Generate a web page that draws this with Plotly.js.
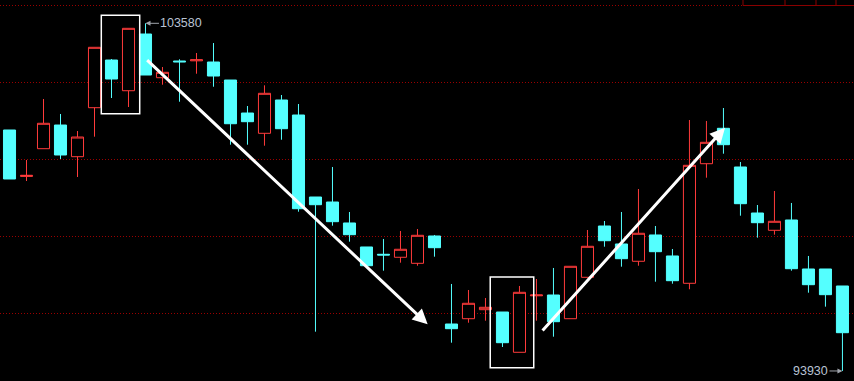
<!DOCTYPE html>
<html>
<head>
<meta charset="utf-8">
<script src="https://cdn.plot.ly/plotly-3.0.1.min.js"></script>
<style>
  html, body { margin: 0; padding: 0; background: #000; overflow: hidden; }
  #chart { width: 854px; height: 381px; }
</style>
</head>
<body>
<div id="chart"></div>
<script>
// ---- data ----
const openVals  = [100619, 99330, 100100, 100757, 99878, 101238, 102561, 101709, 103283, 102070,
                   102534, 102539, 102506, 102006, 101090, 100527, 101451, 101035, 98759, 98620,
                   98038, 97372, 97169, 97086, 96919, 97677, 95234, 95381, 95631, 95567,
                   94449, 96017, 96039, 95381, 96530, 97954, 97455, 96975, 97705, 97122,
                   96364, 99683, 100666, 99592, 98315, 97835, 98121, 96761, 96761, 96289];
const highVals  = [100619, 99786, 101479, 101063, 100591, 102914, 102589, 103441, 103580, 102367,
                   102581, 102756, 103033, 102006, 101285, 101859, 101590, 101340, 98759, 99592,
                   98343, 97372, 97594, 97816, 97871, 97705, 96345, 96178, 95956, 95567,
                   96289, 96483, 96789, 96836, 97843, 98093, 98343, 98981, 97954, 97316,
                   100896, 100869, 101229, 99731, 98537, 98926, 98593, 97122, 96761, 96289];
const lowVals   = [99259, 99203, 100100, 99814, 99314, 100433, 101507, 101257, 102145, 101876,
                   101404, 102181, 101820, 100211, 100211, 100183, 100349, 98351, 95021, 97963,
                   97519, 96852, 96714, 96936, 96852, 97102, 94715, 95270, 95326, 94596,
                   94449, 95326, 94882, 95381, 96530, 97380, 96825, 96852, 96408, 96353,
                   96198, 99295, 99961, 98240, 97630, 97713, 96714, 96103, 95715, 93930];
const closeVals = [99259, 99360, 100805, 99925, 100424, 102914, 102034, 103441, 102145, 102220,
                   102511, 102567, 102117, 100793, 100849, 101637, 100655, 98434, 98545, 98074,
                   97713, 96852, 97149, 97308, 97696, 97352, 95104, 95809, 95698, 94715,
                   96114, 96039, 95298, 96836, 97391, 97546, 97047, 97752, 97241, 96436,
                   99639, 100277, 100211, 98573, 98046, 98085, 96769, 96325, 96048, 94993];
const gridVals  = [104080, 101943, 99807, 97670, 95534];
const highLabel = "103580";
const lowLabel  = "93930";
const tabLabels = ["前复权", "均线", "画", "十"];

const xIdx = openVals.map((_, i) => i);

const RED = '#ff3b3b';
const CYAN = '#54ffff';

const trace = {
  type: 'candlestick',
  x: xIdx,
  open: openVals, high: highVals, low: lowVals, close: closeVals,
  increasing: { line: { color: RED, width: 1 }, fillcolor: '#000000' },
  decreasing: { line: { color: CYAN, width: 1 }, fillcolor: CYAN },
  whiskerwidth: 0,
  hoverinfo: 'skip',
  showlegend: false
};

const W = 854, H = 381;
const px = v => v / W;          // pixel -> paper x
const py = v => 1 - v / H;      // pixel -> paper y

const TABC = '#8a0000';
const tabEdges = [743, 785, 816, 836, 856];

const shapes = [
  // highlight boxes
  { type: 'rect', xref: 'x', yref: 'y', x0: 5.40, x1: 7.66, y0: 101071, y1: 103802,
    line: { color: '#ffffff', width: 1.5 }, fillcolor: 'rgba(0,0,0,0)' },
  { type: 'rect', xref: 'x', yref: 'y', x0: 28.28, x1: 30.84, y0: 94022, y1: 96539,
    line: { color: '#ffffff', width: 1.5 }, fillcolor: 'rgba(0,0,0,0)' },
  // tab strip (top right)
  { type: 'rect', xref: 'paper', yref: 'paper', x0: px(743), x1: px(856), y0: py(5.5), y1: py(-5),
    line: { color: TABC, width: 1 }, fillcolor: '#000000', layer: 'above' }
];
for (let i = 1; i < tabEdges.length - 1; i++) {
  shapes.push({ type: 'line', xref: 'paper', yref: 'paper', x0: px(tabEdges[i]), x1: px(tabEdges[i]),
    y0: py(5.5), y1: py(-5), line: { color: TABC, width: 1 }, layer: 'above' });
}

const annotations = [
  // trend arrows
  { xref: 'x', yref: 'y', axref: 'x', ayref: 'y', x: 24.6, y: 95226, ax: 8.01, ay: 102597,
    text: '', showarrow: true, arrowhead: 2, arrowsize: 1, arrowwidth: 3, arrowcolor: '#ffffff' },
  { xref: 'x', yref: 'y', axref: 'x', ayref: 'y', x: 42.09, y: 100682, ax: 31.28, ay: 95012,
    text: '', showarrow: true, arrowhead: 2, arrowsize: 1, arrowwidth: 3, arrowcolor: '#ffffff' },
  // extreme labels
  { xref: 'x', yref: 'y', x: 8, y: Number(highLabel), text: highLabel, showarrow: true,
    ax: 36, ay: 0, arrowhead: 2, arrowsize: 1, arrowwidth: 1, arrowcolor: '#a0a4ac',
    font: { family: 'Liberation Sans, Arial, sans-serif', size: 12.5, color: '#b9c3d3' } },
  { xref: 'x', yref: 'y', x: 49, y: Number(lowLabel), text: lowLabel, showarrow: true,
    ax: -32, ay: 0, arrowhead: 2, arrowsize: 1, arrowwidth: 1, arrowcolor: '#a0a4ac',
    font: { family: 'Liberation Sans, Arial, sans-serif', size: 12.5, color: '#b9c3d3' } }
];
for (let i = 0; i < tabLabels.length; i++) {
  annotations.push({ xref: 'paper', yref: 'paper',
    x: px((tabEdges[i] + tabEdges[i + 1]) / 2), y: py(3.5), xanchor: 'center', yanchor: 'bottom',
    text: tabLabels[i], showarrow: false,
    font: { family: 'Noto Sans CJK SC, sans-serif', size: 12, color: '#d8d8d8' } });
}

const layout = {
  width: W, height: H,
  margin: { l: 0, r: 0, t: 0, b: 0, pad: 0 },
  paper_bgcolor: '#000000', plot_bgcolor: '#000000',
  boxgap: 0.29, boxgroupgap: 0,
  showlegend: false,
  xaxis: { range: [-0.559, 49.68], showgrid: false, zeroline: false, showticklabels: false,
           showline: false, ticks: '', rangeslider: { visible: false }, fixedrange: true },
  yaxis: { range: [93652, 104227], tickvals: gridVals, showticklabels: false, ticks: '',
           showgrid: true, gridcolor: '#9a0000', gridwidth: 1, griddash: '1px,2px',
           zeroline: false, showline: false, fixedrange: true },
  shapes: shapes,
  annotations: annotations
};

Plotly.newPlot('chart', [trace], layout, { staticPlot: true, displayModeBar: false });
</script>
</body>
</html>
